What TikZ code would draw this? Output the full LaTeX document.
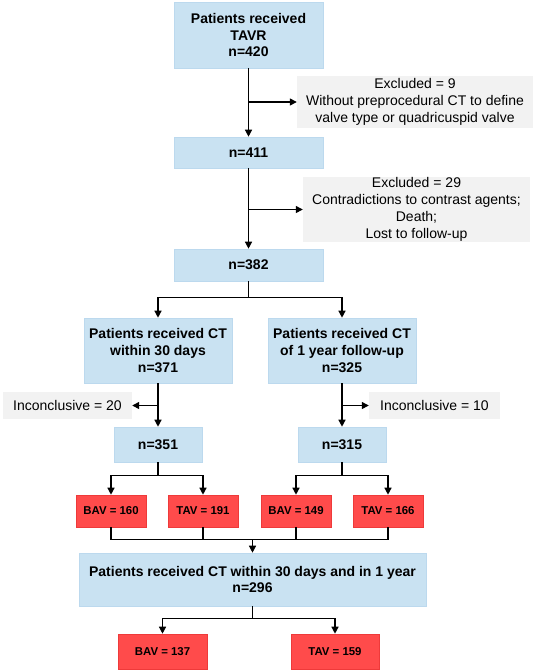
\documentclass[tikz,border=0pt]{standalone}
\usepackage{fontspec}
\setmainfont{Liberation Sans}
\usetikzlibrary{arrows.meta}
\definecolor{boxblue}{HTML}{C9E2F2}
\definecolor{boxblueline}{HTML}{BCD9EE}
\definecolor{boxred}{HTML}{FF4B4B}
\definecolor{boxredline}{HTML}{EE3A3A}
\definecolor{boxgray}{HTML}{F2F2F2}
\tikzset{
  bluebox/.style={fill=boxblue, draw=boxblueline, line width=0.6pt, inner sep=0pt, align=center,
    font=\fontsize{14}{16.8}\selectfont\bfseries},
  redbox/.style={fill=boxred, draw=boxredline, line width=0.6pt, inner sep=0pt, align=center,
    minimum height=32pt, font=\fontsize{11.4}{13.5}\selectfont\bfseries},
  graybox/.style={fill=boxgray, inner sep=0pt, align=center,
    font=\fontsize{14}{17}\selectfont},
  arr/.style={line width=1.3pt, -{Triangle[length=7pt,width=7pt]}},
  ln/.style={line width=1.3pt}
}
\begin{document}
\begin{tikzpicture}[x=1pt,y=-1pt]
\useasboundingbox (0,0) rectangle (536,672);

\node[bluebox, minimum width=149pt, minimum height=66pt] (b420) at (248.5,35) {Patients received\\TAVR\\n=420};
\node[graybox, minimum width=236pt, minimum height=52pt] (ex1) at (415,102) {Excluded = 9\\Without preprocedural CT to define\\valve type or quadricuspid valve};
\node[bluebox, minimum width=149pt, minimum height=31pt] (b411) at (248.5,152.5) {n=411};
\node[graybox, minimum width=227pt, minimum height=65pt] (ex2) at (416.5,209.5) {Excluded = 29\\Contradictions to contrast agents;\\Death;\\Lost to follow-up};
\node[bluebox, minimum width=149pt, minimum height=32pt] (b382) at (248.5,265) {n=382};

\node[bluebox, minimum width=148pt, minimum height=65pt] (b371) at (158,350.5) {Patients received CT\\within 30 days\\n=371};
\node[bluebox, minimum width=148pt, minimum height=65pt] (b325) at (342,350.5) {Patients received CT\\of 1 year follow-up\\n=325};

\node[graybox, minimum width=129pt, minimum height=27pt] (inc20) at (67.5,405.5) {Inconclusive = 20};
\node[graybox, minimum width=131pt, minimum height=27pt] (inc10) at (434.5,405.5) {Inconclusive = 10};

\node[bluebox, minimum width=88pt, minimum height=35pt] (b351) at (158,444.5) {n=351};
\node[bluebox, minimum width=88pt, minimum height=35pt] (b315) at (342,444.5) {n=315};

\node[redbox, minimum width=70pt] (bav160) at (111,511) {BAV = 160};
\node[redbox, minimum width=70pt] (tav191) at (203,511) {TAV = 191};
\node[redbox, minimum width=70pt] (bav149) at (296,511) {BAV = 149};
\node[redbox, minimum width=70pt] (tav166) at (388,511) {TAV = 166};

\node[bluebox, minimum width=347pt, minimum height=53pt] (big) at (252.5,579.5) {Patients received CT within 30 days and in 1 year\\n=296};

\node[redbox, minimum width=89pt, minimum height=35pt] (bav137) at (162.5,651.5) {BAV = 137};
\node[redbox, minimum width=88pt, minimum height=35pt] (tav159) at (335,651.5) {TAV = 159};

% connectors
\draw[arr] (b420.south) -- (b411.north);
\draw[arr] (b420.south |- ex1.west) -- (ex1.west);
\draw[arr] (b411.south) -- (b382.north);
\draw[arr] (b411.south |- ex2.west) -- (ex2.west);

\draw[arr] (b382.south) -- ++(0,16) -| (b371.north);
\draw[arr] (b382.south) -- ++(0,16) -| (b325.north);

\draw[arr] (b371.south) -- (b351.north);
\draw[arr] (b371.south |- inc20.east) -- (inc20.east);
\draw[arr] (b325.south) -- (b315.north);
\draw[arr] (b325.south |- inc10.west) -- (inc10.west);

\draw[arr] (b351.south) -- ++(0,13) -| (bav160.north);
\draw[arr] (b351.south) -- ++(0,13) -| (tav191.north);
\draw[arr] (b315.south) -- ++(0,13) -| (bav149.north);
\draw[arr] (b315.south) -- ++(0,13) -| (tav166.north);

\coordinate (merge) at (big.north |- 0,539);
\draw[ln] (bav160.south) -- ++(0,12) -| (tav166.south);
\draw[ln] (tav191.south) -- ++(0,12);
\draw[ln] (bav149.south) -- ++(0,12);
\draw[arr] (merge) -- (big.north);

\draw[arr] (big.south) -- ++(0,12) -| (bav137.north);
\draw[arr] (big.south) -- ++(0,12) -| (tav159.north);
\end{tikzpicture}
\end{document}
